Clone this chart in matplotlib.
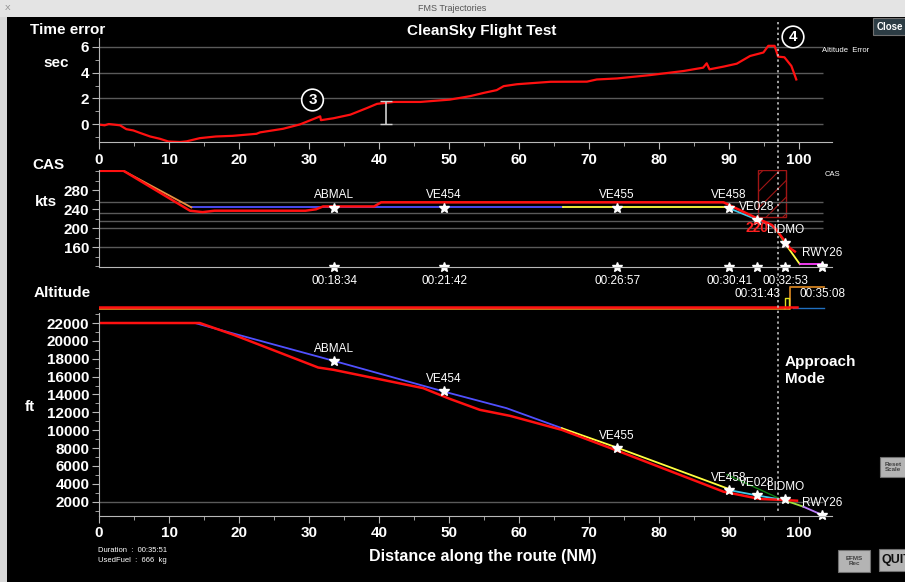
import matplotlib
matplotlib.use("Agg")
import matplotlib.pyplot as plt
from matplotlib.patches import Rectangle
from matplotlib.lines import Line2D
from matplotlib.ticker import MultipleLocator

plt.rcParams['font.family'] = ['Liberation Sans', 'DejaVu Sans']
plt.rcParams['hatch.linewidth'] = 0.8

# time error along the route (NM, sec)
te_dist = [0.1, 0.8, 1.4, 3.0, 3.9, 4.9, 5.9, 7.3, 8.7, 9.9, 11.6, 12.5, 14.4, 16.7, 19.1,
           22.5, 23.0, 26.3, 28.7, 31.6, 31.7, 33.5, 35.9, 38.3, 39.7, 42.1, 45.9, 50.1,
           53.0, 55.0, 56.8, 57.8, 59.7, 64.5, 69.7, 71.1, 74.0, 78.7, 83.5, 86.3, 86.8,
           87.2, 89.2, 91.1, 93.0, 94.9, 95.6, 96.5, 97.0, 97.9, 98.9, 99.6]
te_sec = [-0.05, -0.1, 0.0, -0.1, -0.4, -0.5, -0.7, -0.97, -1.15, -1.36, -1.4, -1.35, -1.1,
          -0.97, -0.92, -0.76, -0.65, -0.37, -0.03, 0.6, 0.3, 0.45, 0.73, 1.25, 1.57, 1.72,
          1.72, 1.9, 2.17, 2.43, 2.64, 2.95, 3.1, 3.29, 3.3, 3.47, 3.55, 3.81, 4.13, 4.39,
          4.73, 4.26, 4.47, 4.7, 5.3, 5.57, 6.09, 6.09, 5.25, 5.2, 4.52, 3.47]

# waypoints
wp_names = ['ABMAL', 'VE454', 'VE455', 'VE458', 'VE028', 'LIDMO', 'RWY26']
wp_dist = [33.6, 49.3, 74.0, 90.0, 94.0, 98.0, 103.3]
wp_cas = [242.7, 242.7, 243, 242, 217.5, 168.4, 120.6]
wp_alt = [17700, 14420, 8050, 3350, 2710, 2300, 550]
wp_time = ['00:18:34', '00:21:42', '00:26:57', '00:30:41', '00:31:43', '00:32:53', '00:35:08']
wp_row = [0, 0, 0, 0, 1, 0, 1]

# CAS (kts)
cas_red_d = [0, 3.5, 13.0, 14.8, 16.5, 29.5, 31.0, 32.0, 39.3, 40.3, 89.2, 94.0, 96.1, 96.8, 98.7, 99.4]
cas_red_v = [321, 321, 237, 234, 237, 237, 240, 246, 246, 254.7, 254.7, 221, 207, 196, 158, 151]
cas_orange_d = [3.5, 13.2]
cas_orange_v = [321, 244]
cas_blue_d = [13.2, 66.3]
cas_blue_v = [244, 244]
cas_yellow_d = [66.3, 89.7]
cas_yellow_v = [244, 244]
cas_cyan_d = [89.7, 94.7, 96.6]
cas_cyan_v = [244, 214, 200]
cas_green_d = [96.6, 98.0]
cas_green_v = [200, 168]
cas_yellow2_d = [98.0, 100.1]
cas_yellow2_v = [168, 124.5]
cas_mag_d = [100.1, 103.2]
cas_mag_v = [124.5, 124.5]
cas_grid = [255, 233, 216, 200, 160]

# altitude (ft)
alt_red_d = [0, 14.4, 19.2, 31.3, 33.5, 46.3, 50.1, 54.4, 58.7, 66.1, 74.0, 89.2, 94.4, 97.8, 99.7]
alt_red_v = [22000, 22000, 20690, 17020, 16760, 14710, 13510, 12280, 11610, 10040, 7720,
             3120, 2300, 2190, 2110]
alt_blue_d = [13.7, 33.5, 50.1, 58.2, 66.1]
alt_blue_v = [22000, 17770, 14150, 12470, 10230]
alt_yellow_d = [66.1, 74.0, 89.7]
alt_yellow_v = [10230, 8050, 3500]
alt_cyan_d = [89.9, 94.2, 97.8]
alt_cyan_v = [3310, 2670, 2190]
alt_dgreen_d = [89.7, 97.0]
alt_dgreen_v = [5030, 2420]
alt_lgreen_d = [97.8, 100.6]
alt_lgreen_v = [2190, 1440]
alt_purple_d = [100.6, 103.2]
alt_purple_v = [1440, 550]

# altitude error strip
ae_red_d = [0, 99.7]
ae_red_v = [3.7, 3.7]
ae_orange_d = [0, 98.7, 98.7, 103.5]
ae_orange_v = [2.3, 2.3, 23.7, 23.7]
ae_yellow_d = [97.8, 98.0, 98.0, 98.5, 98.5]
ae_yellow_v = [3.0, 3.0, 12.7, 12.7, 3.0]
ae_blue_d = [99.2, 103.5]
ae_blue_v = [2.7, 2.7]

W, H = 905, 582
XMAX = 104.7
GRID_END = 103.4


def box(left, top, right, bottom):
    return [left / W, 1 - bottom / H, (right - left) / W, (bottom - top) / H]


def T(x, y, s, **kw):
    kw.setdefault('color', 'white')
    kw.setdefault('ha', 'center')
    kw.setdefault('va', 'center')
    return fig.text(x / W, 1 - y / H, s, **kw)


def style(ax):
    ax.set_facecolor('black')
    ax.spines['top'].set_visible(False)
    ax.spines['right'].set_visible(False)
    ax.spines['left'].set_color('#b8b8b8')
    ax.spines['bottom'].set_color('#b8b8b8')
    ax.tick_params(which='both', colors='#b8b8b8', labelcolor='white', direction='out')
    ax.tick_params(which='major', length=5, labelsize=11, pad=2)
    ax.tick_params(which='minor', length=3)
    ax.set_xlim(0, XMAX)


fig = plt.figure(figsize=(W / 100, H / 100), dpi=100, facecolor='black')

# window decorations
fig.add_artist(Rectangle((0, 1 - 17 / H), 1, 17 / H, transform=fig.transFigure,
                         fc='#e4e4e4', ec='none'))
fig.add_artist(Rectangle((0, 0), 7 / W, 1 - 17 / H, transform=fig.transFigure,
                         fc='#d8d8d8', ec='none'))
T(452, 8.5, 'FMS Trajectories', color='#555555', fontsize=6.5)
T(8, 8.5, 'X', color='#888888', fontsize=6)

# time error panel
ax1 = fig.add_axes(box(99, 38, 832, 142))
style(ax1)
ax1.set_ylim(-1.4, 6.7)
ax1.hlines([0, 2, 4, 6], 0, GRID_END, colors='#5a5a5a', lw=1)
ax1.plot(te_dist, te_sec, color='#ff1010', lw=1.6)
ax1.errorbar([41], [0.88], yerr=[0.88], color='#d0d0d0', capsize=4, lw=1.2)
ax1.set_xticks(range(0, 101, 10))
ax1.xaxis.set_minor_locator(MultipleLocator(5))
ax1.set_yticks([0, 2, 4, 6])
ax1.yaxis.set_minor_locator(MultipleLocator(1))
ax1.tick_params(axis='x', pad=3)

# CAS panel
ax2 = fig.add_axes(box(99, 170, 832, 267))
style(ax2)
ax2.set_ylim(118.5, 322.7)
ax2.hlines(cas_grid, 0, GRID_END, colors='#5a5a5a', lw=1)
ax2.tick_params(axis='x', which='both', bottom=False, labelbottom=False)
ax2.set_yticks([160, 200, 240, 280])
ax2.yaxis.set_minor_locator(MultipleLocator(20))
ax2.add_patch(Rectangle((94.1, 223), 4.0, 99.7, fill=False, ec='#a01515', hatch='//', lw=1))
ax2.plot(cas_blue_d, cas_blue_v, color='#5050ff', lw=1.3)
ax2.plot(cas_yellow_d, cas_yellow_v, color='#ffff40', lw=1.3)
ax2.plot(cas_cyan_d, cas_cyan_v, color='#40c8e8', lw=1.3)
ax2.plot(cas_green_d, cas_green_v, color='#40d040', lw=1.3)
ax2.plot(cas_yellow2_d, cas_yellow2_v, color='#ffff40', lw=1.3)
ax2.plot(cas_mag_d, cas_mag_v, color='#ff40ff', lw=1.3)
ax2.plot(cas_orange_d, cas_orange_v, color='#e89040', lw=1.3)
ax2.plot(cas_red_d, cas_red_v, color='#ff1010', lw=1.8)
ax2.plot(wp_dist, wp_cas, ls='none', marker='*', ms=7, color='white')
ax2.plot(wp_dist, [118.5] * len(wp_dist), ls='none', marker='*', ms=7, color='white',
         clip_on=False)
for name, d, v in zip(wp_names, wp_dist, wp_cas):
    ax2.annotate(name, (d, v), xytext=(0, 13), textcoords='offset pixels',
                 ha='center', va='center', color='white', fontsize=8.5)
for t, d, r in zip(wp_time, wp_dist, wp_row):
    ax2.annotate(t, (d, 118.5), xytext=(0, -14 - 13 * r), textcoords='offset pixels',
                 ha='center', va='center', color='white', fontsize=8.5,
                 annotation_clip=False)
ax2.text(94.0, 201, '220', color='#ff2020', fontsize=10, weight='bold',
         ha='center', va='center')

# altitude error strip
ax3 = fig.add_axes(box(99, 284, 832, 311))
ax3.set_facecolor('none')
ax3.axis('off')
ax3.set_xlim(0, XMAX)
ax3.set_ylim(0, 27)
ax3.plot(ae_orange_d, ae_orange_v, color='#d08020', lw=1.3)
ax3.plot(ae_blue_d, ae_blue_v, color='#2070c0', lw=1.0)
ax3.plot(ae_yellow_d, ae_yellow_v, color='#e0e020', lw=1.0)
ax3.plot(ae_red_d, ae_red_v, color='#ff1010', lw=1.8)

# altitude panel
ax4 = fig.add_axes(box(99, 313, 832, 516))
style(ax4)
ax4.set_ylim(397, 23120)
ax4.hlines([2000], 0, GRID_END, colors='#5a5a5a', lw=1)
ax4.set_xticks(range(0, 101, 10))
ax4.xaxis.set_minor_locator(MultipleLocator(5))
ax4.set_yticks(range(2000, 22001, 2000))
ax4.yaxis.set_minor_locator(MultipleLocator(1000))
ax4.plot(alt_dgreen_d, alt_dgreen_v, color='#108010', lw=1.0)
ax4.plot(alt_blue_d, alt_blue_v, color='#5050ff', lw=1.3)
ax4.plot(alt_yellow_d, alt_yellow_v, color='#ffff40', lw=1.3)
ax4.plot(alt_cyan_d, alt_cyan_v, color='#40c8e8', lw=1.3)
ax4.plot(alt_lgreen_d, alt_lgreen_v, color='#a0e040', lw=1.3)
ax4.plot(alt_purple_d, alt_purple_v, color='#c080ff', lw=1.3)
ax4.plot(alt_red_d, alt_red_v, color='#ff1010', lw=1.8)
ax4.plot(wp_dist, wp_alt, ls='none', marker='*', ms=7, color='white', clip_on=False)
for name, d, v in zip(wp_names, wp_dist, wp_alt):
    ax4.annotate(name, (d, v), xytext=(0, 12), textcoords='offset pixels',
                 ha='center', va='center', color='white', fontsize=8.5)

for ax in (ax1, ax2, ax4):
    for lab in ax.get_xticklabels() + ax.get_yticklabels():
        lab.set_fontweight('bold')

# approach mode marker
fig.add_artist(Line2D([778.3 / W] * 2, [1 - 22 / H, 1 - 513 / H], color='#d0d0d0',
                      ls=(0, (1.5, 2)), lw=1.1))

# panel texts
T(482, 31, 'CleanSky Flight Test', fontsize=11, weight='bold')
T(68, 30, 'Time error', fontsize=11, weight='bold')
T(56, 63, 'sec', fontsize=11, weight='bold')
T(48, 165, 'CAS', fontsize=11, weight='bold')
T(46, 202, 'kts', fontsize=11, weight='bold')
T(62, 293, 'Altitude', fontsize=11, weight='bold')
T(30, 407, 'ft', fontsize=11, weight='bold')
T(846, 51, 'Altitude  Error', fontsize=5.5)
T(832, 175, 'CAS', fontsize=5.5)
T(785, 362, 'Approach', fontsize=11, weight='bold', ha='left')
T(785, 379, 'Mode', fontsize=11, weight='bold', ha='left')
T(483, 556, 'Distance along the route (NM)', fontsize=11.5, weight='bold')
T(98, 551, 'Duration  :  00:35:51', fontsize=5.5, ha='left')
T(98, 561, 'UsedFuel  :  666  kg', fontsize=5.5, ha='left')

circ = dict(boxstyle='circle,pad=0.25', fc='black', ec='white', lw=1.2)
T(312.5, 100, '3', fontsize=11, weight='bold', bbox=circ)
T(793, 37, '4', fontsize=11, weight='bold', bbox=circ)

# buttons
def button(left, top, right, bottom, label, fc, tc, fs, ha='center'):
    fig.add_artist(Rectangle((left / W, 1 - bottom / H), (right - left) / W,
                             (bottom - top) / H, transform=fig.transFigure,
                             fc=fc, ec='#707070', lw=0.8))
    x = (left + right) / 2 if ha == 'center' else left + 2
    T(x, (top + bottom) / 2, label, color=tc, fontsize=fs, ha=ha, weight='bold',
      linespacing=0.9)


button(873, 18, 906, 35, 'Close', '#2c3c44', 'white', 7)
button(880, 457, 906, 477, 'Reset\nScale', '#b4b4b4', '#404040', 4.5)
button(838, 550, 870, 572, 'EFMS\nRec', '#b4b4b4', '#404040', 4.5)
button(879, 549, 906, 571, 'QUIT', '#b4b4b4', '#101010', 9, ha='left')

fig.savefig('out.png', dpi=100, facecolor='black')
